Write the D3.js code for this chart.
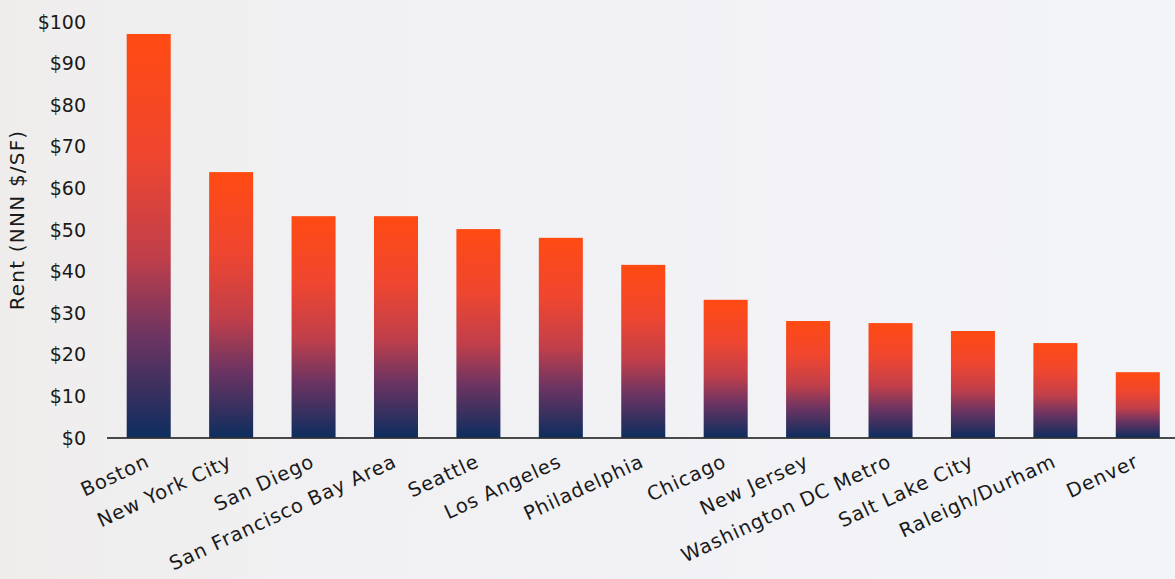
<!DOCTYPE html>
<html>
<head>
<meta charset="utf-8">
<script src="https://cdn.jsdelivr.net/npm/d3@7"></script>
<style>
  html, body { margin: 0; padding: 0; background: #f2f1f4; }
  svg { display: block; }
  text { font-family: "DejaVu Sans", "Noto Sans", sans-serif; fill: #1a1a1a; }
</style>
</head>
<body>
<svg id="chart" width="1175" height="579"></svg>
<script>
const categories = ["Boston", "New York City", "San Diego", "San Francisco Bay Area", "Seattle",
  "Los Angeles", "Philadelphia", "Chicago", "New Jersey", "Washington DC Metro",
  "Salt Lake City", "Raleigh/Durham", "Denver"];
const rentValues = [97.0, 63.8, 53.2, 53.2, 50.1, 48.0, 41.5, 33.1, 28.0, 27.5, 25.6, 22.7, 15.7];
const yTickValues = [0, 10, 20, 30, 40, 50, 60, 70, 80, 90, 100];
const yAxisTitle = "Rent (NNN $/SF)";

const W = 1175, H = 579;
const svg = d3.select("#chart");
const defs = svg.append("defs");

// background
const bg = defs.append("linearGradient").attr("id", "bg").attr("x1", 0).attr("x2", 1).attr("y1", 0).attr("y2", 0);
bg.append("stop").attr("offset", 0).attr("stop-color", "#efedec");
bg.append("stop").attr("offset", 0.35).attr("stop-color", "#f1f1f4");
bg.append("stop").attr("offset", 1).attr("stop-color", "#f3f4f8");
svg.append("rect").attr("width", W).attr("height", H).attr("fill", "url(#bg)");

// bar gradient
const g = defs.append("linearGradient").attr("id", "barGrad").attr("x1", 0).attr("x2", 0).attr("y1", 0).attr("y2", 1);
[[0, "#ff4a12"], [0.3, "#ef4630"], [0.55, "#c13f4a"], [0.75, "#6c3462"], [0.9, "#33305f"], [1, "#0c2e5f"]]
  .forEach(([o, c]) => g.append("stop").attr("offset", o).attr("stop-color", c));

const x = d3.scaleBand().domain(categories).range([107.5, 1179]).paddingInner(0.466).paddingOuter(0.233);
const y = d3.scaleLinear().domain([0, 100]).range([437.5, 21.5]);

// y axis (labels only)
const yAxis = d3.axisLeft(y).tickValues(yTickValues).tickSize(0).tickPadding(0).tickFormat(d => "$" + d);
const yg = svg.append("g").attr("transform", "translate(86,0)").call(yAxis);
yg.select(".domain").remove();
yg.selectAll("text").style("font-size", "19px").attr("fill", "#1a1a1a").attr("dy", "0.35em");

// bars
svg.append("g").selectAll("rect").data(categories).join("rect")
  .attr("x", d => x(d))
  .attr("y", (d, i) => y(rentValues[i]))
  .attr("width", x.bandwidth())
  .attr("height", (d, i) => y(0) - y(rentValues[i]))
  .attr("fill", "url(#barGrad)");

// x axis
const xAxis = d3.axisBottom(x).tickSize(0).tickPadding(0);
const xg = svg.append("g").attr("transform", "translate(0," + 438 + ")").call(xAxis);
xg.select(".domain").attr("d", "M107,0H1175").attr("stroke", "#111").attr("stroke-width", 1.5);
xg.selectAll("text")
  .style("font-size", "19.5px")
  .style("letter-spacing", "0.9px")
  .attr("fill", "#1a1a1a")
  .attr("text-anchor", "end")
  .attr("dy", null)
  .attr("y", 0)
  .attr("transform", "translate(2,28) rotate(-25)");

// y title
svg.append("text")
  .attr("transform", "translate(24,220) rotate(-90)")
  .attr("text-anchor", "middle")
  .style("font-size", "20px")
  .style("letter-spacing", "1.2px")
  .text(yAxisTitle);
</script>
</body>
</html>
